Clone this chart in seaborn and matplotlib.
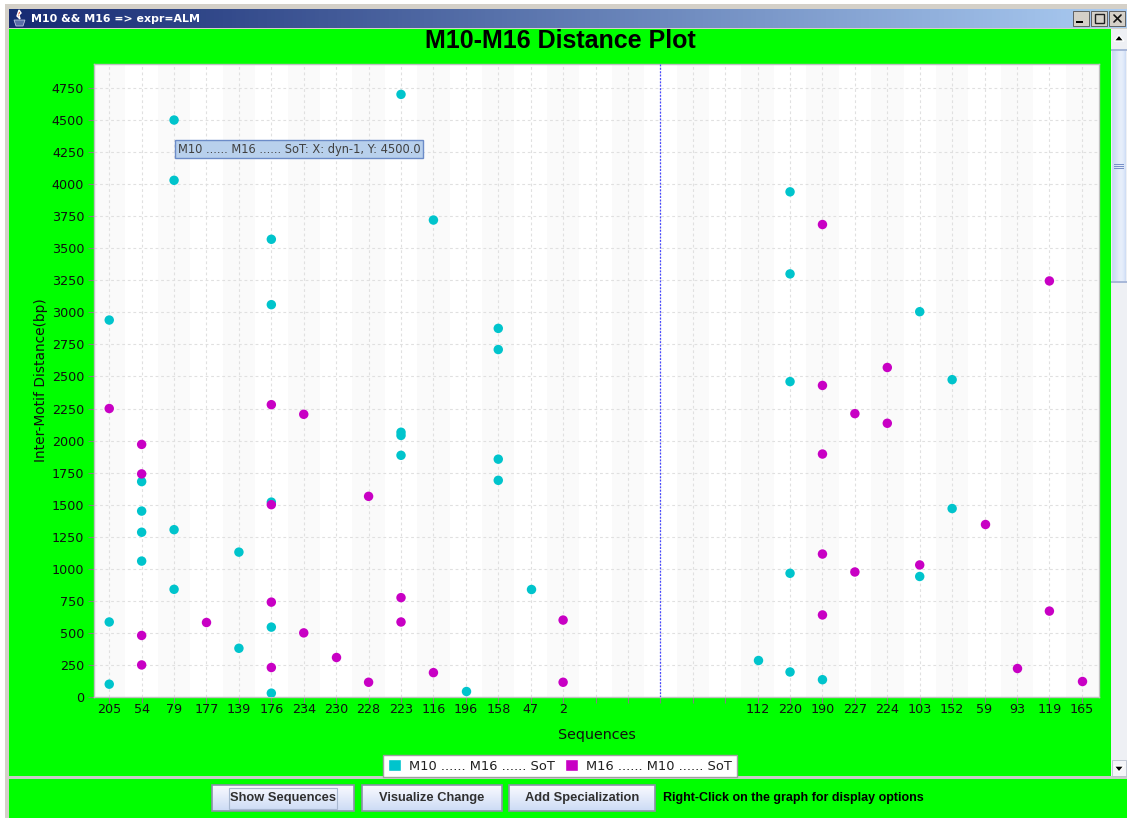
import numpy as np
import pandas as pd
import matplotlib
matplotlib.use("Agg")
import matplotlib.pyplot as plt
from matplotlib.patches import Rectangle, Polygon
import seaborn as sns

# ---- data ----
order = ["205", "54", "79", "177", "139", "176", "234", "230", "228", "223", "116", "196",
         "158", "47", "2", " ", "  ", "   ", "    ", "     ",
         "112", "220", "190", "227", "224", "103", "152", "59", "93", "119", "165"]
yticks = list(range(0, 5000, 250))
series_a = "M10 ...... M16 ...... SoT"
series_b = "M16 ...... M10 ...... SoT"
a_seq = ["205", "205", "205", "54", "54", "54", "54", "79", "79", "79", "79", "139", "139",
         "176", "176", "176", "176", "176", "223", "223", "223", "223", "116", "196",
         "158", "158", "158", "158", "47", "112", "220", "220", "220", "220", "220", "190",
         "103", "103", "152", "152"]
a_val = [2940, 585, 100, 1680, 1450, 1285, 1060, 4500, 4030, 1305, 840, 1130, 380,
         3570, 3060, 1520, 545, 30, 4700, 2065, 2040, 1885, 3720, 45,
         2875, 2710, 1855, 1690, 845, 290, 3940, 3300, 2460, 965, 195, 135,
         3005, 940, 2475, 1470]
b_seq = ["205", "54", "54", "54", "54", "177", "176", "176", "176", "176", "234", "234", "230",
         "228", "228", "223", "223", "116", "2", "2", "190", "190", "190", "190", "190",
         "227", "227", "224", "224", "103", "59", "93", "119", "119", "165"]
b_val = [2250, 1970, 1740, 480, 250, 585, 2280, 1500, 740, 230, 2205, 500, 310,
         1565, 115, 775, 585, 190, 600, 115, 3685, 2430, 1895, 1115, 640,
         2210, 975, 2570, 2135, 1030, 1350, 230, 3245, 670, 125]
cyan = "#00c4cc"
magenta = "#c800c4"
green = "#00ff00"

W, H = 1127, 818
sns.set_theme(style="white")
plt.rcParams["font.family"] = ["DejaVu Sans"]
fig = plt.figure(figsize=(W / 100, H / 100), dpi=100, facecolor="#ece9d8")


def fr(x0, y0, x1, y1):
    return [x0 / W, 1 - y1 / H, (x1 - x0) / W, (y1 - y0) / H]


# ---- window chrome, in pixel coordinates ----
bg = fig.add_axes([0, 0, 1, 1], zorder=0)
bg.set_xlim(0, W)
bg.set_ylim(H, 0)
bg.axis("off")


def rect(x0, y0, x1, y1, fc, ec="none", lw=0, z=1):
    bg.add_patch(Rectangle((x0, y0), x1 - x0, y1 - y0, fc=fc, ec=ec, lw=lw, zorder=z))


rect(0, 0, W, H, "white")
rect(5, 4, W, H, "#d4d0c8")
rect(9, 29, 1111, H, green)
rect(9, 776, W, 779, "#c8ccc8", z=2)
rect(9, 779, W, H, green)

grad = np.linspace(0, 1, 256)[None, :, None]
c0, c1 = np.array([0.09, 0.17, 0.45]), np.array([0.67, 0.80, 0.95])
bg.imshow(c0 + grad * (c1 - c0), extent=(9, W, 28, 9), aspect="auto", zorder=2)
bg.set_xlim(0, W)
bg.set_ylim(H, 0)
bg.text(31, 18.5, "M10 && M16 => expr=ALM", color="white", fontsize=7.9, fontweight="bold",
        family="DejaVu Sans", va="center", ha="left", zorder=3)
# java-cup icon
bg.add_patch(Polygon([[14, 20], [25, 20], [23, 26], [16, 26]], fc="#5a6ea8", ec="#c8d0e8", lw=0.5, zorder=3))
bg.add_patch(Polygon([[19, 10], [21, 13], [19, 15], [20, 19], [17, 16], [18, 13]], fc="#e04020", zorder=3))

# window buttons
for x0, lab in [(1073, "_"), (1091, ""), (1109, "x")]:
    rect(x0, 11, x0 + 16, 26, "#d4d0c8", ec="#505050", lw=0.6, z=3)
rect(1076, 21, 1083, 23, "black", z=4)
rect(1095, 14, 1104, 23, "none", ec="#202020", lw=1.0, z=4)
bg.plot([1114, 1121], [15, 22], color="#101010", lw=1.2, zorder=4)
bg.plot([1121, 1114], [15, 22], color="#101010", lw=1.2, zorder=4)

# scrollbar
rect(1111, 29, W, 776, "#eef0f4", z=2)
sb = np.linspace(0, 1, 64)[None, :, None]
bg.imshow(np.array([0.80, 0.86, 0.96]) + sb * np.array([0.18, 0.13, 0.04]) * np.sin(sb * np.pi),
          extent=(1112, 1126, 283, 50), aspect="auto", zorder=3)
bg.set_xlim(0, W)
bg.set_ylim(H, 0)
rect(1111, 49, W, 51, "#a8b8d8", z=4)
rect(1111, 281, W, 283, "#a8b8d8", z=4)
for yy in (164, 166, 168):
    rect(1114, yy, 1124, yy + 1, "#7890c8", z=4)
bg.add_patch(Polygon([[1114, 41], [1124, 41], [1119, 35]], fc="black", zorder=4))
rect(1112, 760, 1126, 776, "#f4f5f8", ec="#b0b8c8", lw=0.5, z=3)
bg.add_patch(Polygon([[1114, 766], [1124, 766], [1119, 772]], fc="black", zorder=4))

# buttons
bgr = np.linspace(0, 1, 32)[:, None, None]
for x0, x1, lab in [(212, 354, "Show Sequences"), (362, 502, "Visualize Change"),
                    (509, 655, "Add Specialization")]:
    col = np.array([0.98, 0.98, 1.0]) - bgr * np.array([0.18, 0.12, 0.04])
    bg.imshow(col, extent=(x0, x1, 811, 785), aspect="auto", zorder=3)
    bg.add_patch(Rectangle((x0, 785), x1 - x0, 26, fc="none", ec="#8c90a8", lw=1.2, zorder=4))
    bg.text((x0 + x1) / 2, 798.5, lab, color="#303030", fontsize=9.3, fontweight="bold",
            family="Liberation Sans", ha="center", va="center", zorder=5)
bg.add_patch(Rectangle((229, 788), 108, 21, fc="none", ec="#a8b8d0", lw=0.8, zorder=4))
bg.set_xlim(0, W)
bg.set_ylim(H, 0)
bg.text(663, 798.5, "Right-Click on the graph for display options", color="black",
        fontsize=9.0, fontweight="bold", family="Liberation Sans", ha="left", va="center", zorder=5)

# ---- plot ----
df = pd.concat([
    pd.DataFrame({"Sequences": a_seq, "Distance": a_val, "Series": series_a}),
    pd.DataFrame({"Sequences": b_seq, "Distance": b_val, "Series": series_b}),
])

ax = fig.add_axes(fr(94, 64, 1099, 697), zorder=2)
ax.set_facecolor("white")
sns.stripplot(data=df, x="Sequences", y="Distance", hue="Series", order=order,
              hue_order=[series_a, series_b], palette=[cyan, magenta], jitter=False,
              dodge=False, size=6.8, linewidth=0, ax=ax, legend=False, zorder=5)
ax.set_xlim(-0.47, len(order) - 0.47)
ax.set_ylim(0, 4937)

for i in range(0, len(order), 2):
    ax.axvspan(i - 0.5, i + 0.5, color="#fafafa", lw=0, zorder=0)
ax.set_yticks(yticks)
ax.set_xticks(range(len(order)))
ax.set_xticklabels(order)
ax.grid(True, color="#e0e0e0", linestyle=(0, (2.5, 2.5)), linewidth=0.8)
ax.set_axisbelow(True)
ax.tick_params(axis="both", length=4, width=0.8, color="#808080", labelsize=9.2,
               labelcolor="#101010", pad=3, bottom=True, left=True)
ax.tick_params(axis="x", pad=0.5)
for s in ax.spines.values():
    s.set_color("#c0c0c0")
    s.set_linewidth(1.0)
ax.axvline(order.index("   "), color="#4848ff", lw=0.9, linestyle=(0, (1.5, 1.2)), zorder=3)
ax.set_xlabel("Sequences", fontsize=10.3, color="#101010", labelpad=8.5)
ax.set_ylabel("Inter-Motif Distance(bp)", fontsize=9.9, color="#101010", labelpad=3)

# tooltip
ax.annotate("M10 ...... M16 ...... SoT: X: dyn-1, Y: 4500.0", xy=(2.12, 4272), xycoords="data",
            ha="left", va="center", fontsize=8.3, color="#404040", zorder=8,
            bbox=dict(boxstyle="square,pad=0.22", fc="#b8d0ec", ec="#6c8cc8", lw=1.0))

# title
fig.text(560 / W, 1 - 40.5 / H, "M10-M16 Distance Plot", fontsize=18, fontweight="bold",
         family="Liberation Sans", color="black", ha="center", va="center", zorder=6)

# legend
handles = [Rectangle((0, 0), 1, 1, fc=cyan), Rectangle((0, 0), 1, 1, fc=magenta)]
fig.legend(handles, [series_a, series_b], loc="center", bbox_to_anchor=(560 / W, 1 - 766 / H),
           ncol=2, fontsize=9.4, frameon=True, fancybox=False, edgecolor="#a0a0a0", framealpha=1,
           handlelength=1.0, handleheight=1.0, handletextpad=0.6, columnspacing=0.8,
           borderpad=0.35, labelcolor="#202020")

fig.savefig("out.png", dpi=100)
